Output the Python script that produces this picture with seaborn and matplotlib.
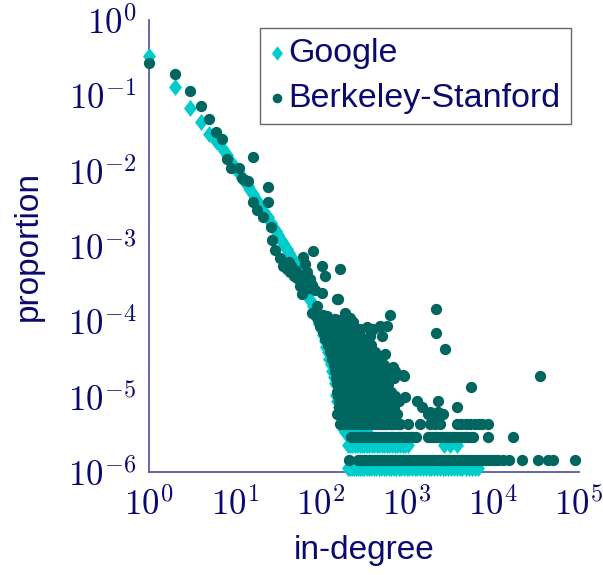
import matplotlib
matplotlib.use('Agg')
import matplotlib.pyplot as plt
import seaborn as sns
import pandas as pd
import numpy as np
from matplotlib.ticker import LogLocator, FuncFormatter, NullFormatter

# ---------------- data ----------------
# Google: head of the distribution (in-degree k, proportion p)
google_k = [1, 2, 3, 4, 5, 6, 7, 8, 9, 10, 11, 12, 13, 14, 15, 16, 17, 18, 19, 20,
            22, 24, 26, 28, 30, 32, 34, 36, 38, 40, 43, 46, 50, 54, 58, 62, 66, 70,
            75, 80, 85, 90, 95, 100, 105, 110, 115, 120, 125, 130, 135, 140, 145,
            150, 155, 160, 165, 170, 175, 180, 185, 190, 195, 200]
google_p = [0.33, 0.13, 0.068, 0.044, 0.031, 0.025, 0.020, 0.016, 0.013, 0.011,
            0.0094, 0.0081, 0.0071, 0.0062, 0.0055, 0.0049, 0.0044, 0.0040, 0.0036,
            0.0033, 0.0028, 0.0024, 0.0020, 0.0018, 0.0016, 0.0014, 0.0012, 0.0011,
            0.00098, 0.00090, 0.00080, 0.00070, 0.00058, 0.00049, 0.00042, 0.00035,
            0.00030, 0.00026, 0.00019, 0.00016, 0.00013, 0.00011, 9.2e-5, 7.8e-5,
            6.6e-5, 5.5e-5, 4.6e-5, 3.9e-5, 3.2e-5, 2.7e-5, 2.2e-5, 1.8e-5, 1.5e-5,
            1.05e-5, 8.8e-6, 7.4e-6, 6.2e-6, 5.2e-6, 4.6e-6, 4.0e-6, 3.6e-6, 3.4e-6,
            3.4e-6, 3.4e-6]
# Google: quantised tail rows (proportion level -> in-degrees)
google_row_levels = [1.14e-6, 2.28e-6, 3.42e-6, 4.56e-6, 5.7e-6, 6.84e-6]
google_row_k = [
    [205, 215, 228, 240, 255, 270, 285, 300, 320, 340, 360, 385, 410, 440, 470,
     500, 535, 570, 610, 650, 700, 750, 800, 860, 920, 990, 1060, 1140, 1230,
     1320, 1420, 1530, 1650, 1780, 1920, 2070, 2230, 2400, 2600, 2800, 3000,
     3250, 3500, 3800, 4100, 4400, 4800, 5200, 5700, 6200, 6700],
    [205, 218, 232, 248, 265, 282, 300, 320, 342, 365, 390, 415, 445, 475, 510,
     545, 585, 625, 670, 720, 770, 830, 890, 960, 1030, 2700, 3200, 3800],
    [205, 220, 240, 260, 285, 310, 340],
    [200, 215, 235, 255, 280],
    [190, 205, 225, 250],
    [180, 200, 220],
]

# Berkeley-Stanford: scattered head and outliers
bs_k = [1, 2, 3, 4, 5, 6, 7, 8, 9, 11, 12, 13, 14, 16, 16, 18, 21, 24, 24, 26,
        27, 29, 33, 36, 38, 40, 42, 44, 45, 48, 50, 52, 54, 57, 58, 60, 62, 63,
        65, 69, 72, 75, 78, 79, 81, 85, 86, 90, 98, 103, 103, 106, 112, 118, 146,
        155, 159, 167, 191, 202, 219, 237, 286, 345, 374, 405, 489, 516, 559, 590,
        640, 693, 906, 930, 955, 1300, 1500, 1870, 2150, 2150, 2300, 2300, 2800,
        3850, 5500, 35000]
bs_p = [0.27, 0.19, 0.115, 0.072, 0.049, 0.033, 0.026, 0.0145, 0.011, 0.011,
        0.0081, 0.0076, 0.0072, 0.0154, 0.0038, 0.0030, 0.0024, 0.0061, 0.0038,
        0.0018, 0.0012, 0.00089, 0.0007, 0.00054, 0.0006, 0.0005, 0.00062,
        0.00045, 0.00055, 0.0004, 0.00048, 0.00038, 0.00042, 0.00029, 0.00036,
        0.00023, 0.00072, 0.0004, 0.00057, 0.00045, 0.00028, 0.00036, 0.0003,
        0.00013, 0.00085, 0.00026, 0.00012, 0.00016, 0.000106, 0.00054, 0.00024,
        0.00012, 0.0004, 0.000116, 0.000106, 0.000195, 0.000195, 0.00049,
        0.00013, 0.0001, 0.00011, 9.8e-5, 7.8e-5, 8.3e-5, 6.3e-5, 7.8e-5, 8.6e-5,
        6.3e-5, 3.65e-5, 8.6e-5, 0.00012, 2.46e-5, 1.93e-5, 1.9e-5, 1.0e-5,
        8.7e-6, 7.4e-6, 6.3e-6, 0.000144, 7.1e-5, 8.7e-6, 6.3e-6, 4.3e-5, 7.4e-6,
        1.35e-5, 1.9e-5]
# Berkeley-Stanford: dense cloud and quantised tail rows (level -> in-degrees)
bs_row_levels = [1.46e-6, 2.92e-6, 4.38e-6, 5.84e-6, 7.3e-6, 8.76e-6, 1.02e-5,
                 1.17e-5, 1.46e-5, 1.75e-5, 2.19e-5, 2.63e-5, 3.21e-5, 3.94e-5,
                 4.82e-5, 5.84e-5, 7.3e-5, 8.76e-5, 1.05e-4]
bs_row_k = [
    [214, 270, 285, 300, 318, 336, 355, 375, 397, 420, 445, 470, 500, 530, 560,
     595, 630, 670, 710, 750, 800, 850, 900, 960, 1020, 1090, 1160, 1240, 1320,
     1410, 1500, 1600, 1710, 1830, 1960, 2100, 2250, 2400, 2570, 2750, 2950,
     3150, 3400, 3650, 3900, 4200, 4500, 4850, 5200, 5600, 6000, 6500, 7000,
     7600, 8200, 8900, 9700, 10500, 11300, 13000, 15500, 22000, 33000, 44000,
     50000, 89000],
    [222, 236, 250, 265, 282, 300, 318, 338, 360, 383, 408, 434, 462, 492, 523,
     557, 593, 631, 672, 715, 760, 810, 862, 918, 977, 1040, 1110, 1180, 1260,
     1750, 1860, 1980, 2110, 2250, 2400, 2560, 2730, 2910, 3100, 3300, 3520,
     3750, 4000, 4270, 4550, 4850, 5170, 5500, 5900, 8800, 17000],
    [167, 178, 190, 202, 215, 229, 244, 260, 277, 295, 314, 334, 356, 379, 404,
     430, 458, 488, 520, 554, 590, 628, 669, 712, 758, 807, 836, 1040, 1430,
     1850, 2100, 2400, 3800, 4300, 4850, 5450, 6100, 6800, 7500, 8800],
    [155, 165, 176, 188, 200, 213, 227, 242, 258, 275, 293, 312, 332, 354, 377,
     402, 428, 456, 486, 518, 552, 588, 626, 667, 710, 770, 1750, 2050, 2300,
     2600],
    [160, 172, 185, 199, 214, 230, 247, 266, 286, 307, 330, 355, 382, 410, 441,
     474, 510, 548, 590, 640, 700],
    [160, 175, 190, 207, 225, 245, 266, 289, 314, 342, 372, 404, 440, 478, 520,
     565, 614, 668, 726, 800],
    [158, 172, 188, 205, 223, 243, 264, 287, 312, 340, 370, 402, 437, 476, 518,
     563, 612, 666, 724],
    [155, 170, 185, 202, 220, 240, 261, 284, 309, 336, 366, 398, 433, 471, 512,
     557, 606, 660],
    [152, 166, 181, 197, 215, 234, 255, 278, 302, 329, 358, 390, 424, 462, 503,
     547, 595],
    [150, 163, 178, 194, 211, 230, 250, 272, 296, 322, 351, 382, 416, 453, 493,
     537, 590, 700],
    [145, 158, 172, 187, 204, 222, 242, 263, 286, 311, 339, 369, 401, 437, 476,
     518, 570, 730],
    [140, 153, 167, 182, 198, 215, 234, 255, 277, 302, 328, 357, 389, 423, 460,
     500, 540],
    [135, 148, 162, 177, 193, 211, 230, 251, 274, 299, 326, 356, 388, 423, 462,
     500],
    [128, 140, 153, 167, 182, 199, 217, 237, 259, 283, 309, 337, 368, 402, 430],
    [120, 131, 143, 156, 170, 186, 203, 222, 242, 264, 288, 315, 344, 380],
    [112, 122, 133, 145, 158, 173, 189, 206, 225, 246, 268, 293, 320],
    [105, 114, 124, 135, 148, 162, 177, 193, 211, 230, 252, 275],
    [98, 107, 117, 128, 140, 153, 167, 183, 200, 218, 238],
    [92, 101, 110, 120, 131, 143, 156, 171, 187, 204],
]

series_names = ["Google", "Berkeley-Stanford"]
x_ticks = [1e0, 1e1, 1e2, 1e3, 1e4, 1e5]
y_ticks = [1e-6, 1e-5, 1e-4, 1e-3, 1e-2, 1e-1, 1e0]


def build(head_k, head_p, levels, rows):
    ks = list(head_k)
    ps = list(head_p)
    for lvl, kk in zip(levels, rows):
        ks += kk
        ps += [lvl] * len(kk)
    return pd.DataFrame({"k": ks, "p": ps})


gdf = build(google_k, google_p, google_row_levels, google_row_k)
bdf = build(bs_k, bs_p, bs_row_levels, bs_row_k)

# ---------------- style ----------------
CYAN = "#00CCCC"
TEAL = "#00665F"
NAVY = "#0A0A6E"
AXIS = "#5C5CA0"
TICK = "#8080A8"
DIAMOND = [(0, 1), (0.76, 0), (0, -1), (-0.76, 0), (0, 1)]

sns.set_theme(style="white")
plt.rcParams["font.family"] = ["Liberation Sans", "DejaVu Sans"]
plt.rcParams["mathtext.fontset"] = "cm"

fig = plt.figure(figsize=(6.03, 5.75), dpi=100)
ax = fig.add_axes([149 / 603, 1 - 472 / 575, 430 / 603, 452 / 575])

sns.scatterplot(data=gdf, x="k", y="p", marker=DIAMOND, s=150, color=CYAN,
                linewidth=0, label=series_names[0], ax=ax, zorder=3)
sns.scatterplot(data=bdf, x="k", y="p", marker="o", s=66, color=TEAL,
                linewidth=0, label=series_names[1], ax=ax, zorder=4)
for coll in ax.collections:
    coll.set_clip_on(False)

ax.set_xscale("log")
ax.set_yscale("log")
ax.set_xlim(1, 1e5)
ax.set_ylim(1e-6, 1)
ax.set_xticks(x_ticks)
ax.set_yticks(y_ticks)
fmt = FuncFormatter(lambda v, pos: r"$10^{%d}$" % int(round(np.log10(v))))
ax.xaxis.set_major_formatter(fmt)
ax.yaxis.set_major_formatter(fmt)
for axis in (ax.xaxis, ax.yaxis):
    axis.set_minor_locator(LogLocator(base=10, subs=np.arange(2, 10), numticks=100))
    axis.set_minor_formatter(NullFormatter())

ax.tick_params(which="both", direction="in", colors=TICK, labelcolor=NAVY,
               width=0.9)
ax.tick_params(which="major", length=10, labelsize=25)
ax.tick_params(which="minor", length=6)
ax.tick_params(axis="x", which="major", pad=11)
ax.tick_params(axis="y", which="major", pad=9)

for side in ("top", "right"):
    ax.spines[side].set_visible(False)
for side in ("left", "bottom"):
    ax.spines[side].set_color(AXIS)
    ax.spines[side].set_linewidth(1.3)

ax.set_xlabel("in-degree", fontsize=24, color=NAVY)
ax.set_ylabel("proportion", fontsize=24, color=NAVY)
ax.xaxis.set_label_coords(0.5, -(551 - 472) / 452)
ax.yaxis.set_label_coords((28 - 149) / 430, 0.5)
ax.xaxis.label.set_va("center")
ax.yaxis.label.set_va("center")

leg = ax.legend(loc="upper right", bbox_to_anchor=(0.981, 0.982),
                borderaxespad=0, fontsize=24.5, markerscale=0.85,
                handlelength=0.45, handletextpad=0.1, borderpad=0.3,
                labelspacing=0.4, frameon=True, fancybox=False)
leg.get_frame().set_edgecolor("#404040")
leg.get_frame().set_linewidth(1.0)
for t in leg.get_texts():
    t.set_color(NAVY)

fig.savefig("out.png", dpi=100)
